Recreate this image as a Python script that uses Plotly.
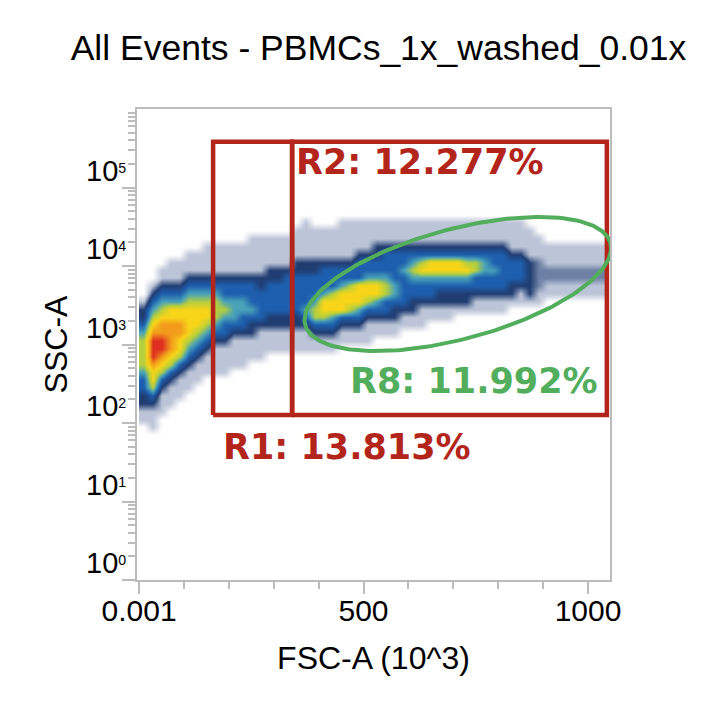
import numpy as np
import plotly.graph_objects as go

# ---------------- text ----------------
title_text = "All Events - PBMCs_1x_washed_0.01x"
x_title = "FSC-A (10^3)"
y_title = "SSC-A"

# ---------------- axes ----------------
x_tick_vals = [0.001, 500, 1000]
x_tick_text = ["0.001", "500", "1000"]
x_minor_vals = [100, 200, 300, 400, 600, 700, 800, 900]
y_label_exponents = [0, 1, 2, 3, 4, 5]

# ---------------- density ----------------
# FSC bins: 20 units wide starting at 0; SSC bins: 0.1 decade tall starting at 10^5.0 going down
fsc_bin_width = 20
ssc_log_top = 5.0
ssc_log_step = 0.1
ssc_rows = 37
# per FSC column: first SSC row (from top) and density levels going down
# 0 empty, 1 sparse dots, h speckled navy, 2 navy, 3 blue, 4 teal, 5 yellow-green, 6 yellow, 7 orange, 8 red
density_start = [14, 12, 10, 9, 9, 8, 8, 7, 7, 7, 7, 7, 6, 6, 6, 6, 6, 5, 4, 5, 5, 5,
                 4, 4, 4, 4, 4, 4, 4, 4, 4, 4, 4, 4, 4, 4, 4, 4, 4, 4, 4, 4, 4, 4,
                 4, 4, 4, 4, 4, 4, 4, 4]
density_levels = [
    "1223455554332211",
    "1234567888766532111",
    "1123456778876532111",
    "1112346677776532111",
    "111234667766532111",
    "111234566665432111",
    "11123456665432111",
    "11112345665432111",
    "11112345554321111",
    "11112334543321111",
    "1111233444321111",
    "1111233443321111",
    "1111123334322111",
    "1111122333321111",
    "111122333322111",
    "111122333322111",
    "111123333322111",
    "1111223333322111",
    "11111223333432111",
    "1111223334553211",
    "1111233346653211",
    "1111233356643211",
    "1111123346663211",
    "1111123356653211",
    "1111233366643211",
    "1111233466532111",
    "1112233466432110",
    "1112333455332110",
    "1112333344322110",
    "1112334333321100",
    "1112345433221100",
    "1112356433211100",
    "1112366433211000",
    "1112366432211000",
    "1112366432211000",
    "1112366432210000",
    "1112356432210000",
    "1112355332110000",
    "1112344332110000",
    "1112334332110000",
    "1112333332110000",
    "1111233322100000",
    "1111233321100000",
    "0111122222100000",
    "00111hhhh1100000",
    "000111hh11000000",
    "000111hh11000000",
    "000111hh11000000",
    "000111hh11000000",
    "000111hh11000000",
    "000111hh11000000",
    "000111hh11000000",
]
level_values = {"h": 1.5}

# ---------------- gates ----------------
gate_labels = ["R1: 13.813%", "R2: 12.277%", "R8: 11.992%"]
r1_fsc = [165, 341]
r2_fsc = [341, 1042]
rect_ssc = [126, 383000]
r8_center = (710, 5900)
label_pos = {"R1": (183, 1.694), "R2": (345, 5.325), "R8": (465, 2.535)}

# ---------------- layout constants ----------------
# (the page adds an 8 px body margin, so the figure is 8 px smaller each way)
W, H = 716, 700
ML, MR, MT, MB = 129, 114, 101, 128
x_range = [-4.5, 1049]
y_range = [0, 6]
plot_w = W - ML - MR
plot_h = H - MT - MB

RED = "#b3251b"
GREEN = "#52ad5c"
AXIS_GREY = "#bcbcbc"

# build density grid
n_cols = len(density_levels)
z = np.zeros((ssc_rows, n_cols))
for k, (s, lv) in enumerate(zip(density_start, density_levels)):
    for i, ch in enumerate(lv):
        if s + i < ssc_rows:
            z[s + i, k] = level_values.get(ch, None) if ch in level_values else int(ch)
x_edges = [fsc_bin_width * k for k in range(n_cols + 1)]
y_log_edges = [ssc_log_top - ssc_log_step * i for i in range(ssc_rows + 1)]
z_asc = z[::-1]
y_edges_asc = [10 ** v for v in y_log_edges[::-1]]

colorscale = [
    [0 / 8, "#ffffff"],
    [1 / 8, "#bcc5d8"],
    [2 / 8, "#203d72"],
    [3 / 8, "#1d5fae"],
    [4 / 8, "#49a2b8"],
    [5 / 8, "#b5cf3e"],
    [6 / 8, "#f8d519"],
    [7 / 8, "#f39c1c"],
    [8 / 8, "#de2f1f"],
]

fig = go.Figure()
fig.add_trace(go.Heatmap(
    x=x_edges, y=y_edges_asc, z=z_asc, zmin=0, zmax=8,
    colorscale=colorscale, zsmooth="best", showscale=False, hoverinfo="skip",
))

# rectangle gates
for fx in (r1_fsc, r2_fsc):
    fig.add_trace(go.Scatter(
        x=[fx[0], fx[1], fx[1], fx[0], fx[0]],
        y=[rect_ssc[0], rect_ssc[0], rect_ssc[1], rect_ssc[1], rect_ssc[0]],
        mode="lines", line=dict(color=RED, width=4.5), hoverinfo="skip", showlegend=False,
    ))

# ellipse gate (semi-axes in screen pixels, tilted)
x_per_px = (x_range[1] - x_range[0]) / plot_w
dec_per_px = (y_range[1] - y_range[0]) / plot_h
a_px, b_px, ang = 158, 55, np.deg2rad(15)
t = np.linspace(0, 2 * np.pi, 241)
dx = a_px * np.cos(t) * np.cos(ang) - b_px * np.sin(t) * np.sin(ang)
dy = a_px * np.cos(t) * np.sin(ang) + b_px * np.sin(t) * np.cos(ang)
ex = r8_center[0] + dx * x_per_px
ey = 10 ** (np.log10(r8_center[1]) + dy * dec_per_px)
fig.add_trace(go.Scatter(x=ex, y=ey, mode="lines", line=dict(color=GREEN, width=4),
                         hoverinfo="skip", showlegend=False))

annos = []
for lab in gate_labels:
    key = lab.split(":")[0]
    px, py = label_pos[key]
    annos.append(dict(
        x=px, y=py, xref="x", yref="y", text=lab, showarrow=False,
        xanchor="left", yanchor="middle",
        font=dict(family="DejaVu Sans", size=35, color=GREEN if key == "R8" else RED, weight="bold"),
    ))

y_tickvals = [10 ** e for e in y_label_exponents]
y_ticktext = ["10<sup><sub>%d</sub></sup>" % e for e in y_label_exponents]
y_minor = [m * 10 ** e for e in range(0, 6) for m in range(2, 10)]

fig.update_layout(
    width=W, height=H,
    margin=dict(l=ML, r=MR, t=MT, b=MB, autoexpand=False),
    paper_bgcolor="white", plot_bgcolor="white",
    showlegend=False,
    title=dict(text=title_text, x=370.5 / W, xanchor="center", y=1 - 40 / H, yanchor="middle",
               xref="container", yref="container", automargin=False,
               font=dict(family="Liberation Sans", size=35.5, color="black")),
    annotations=annos,
    xaxis=dict(
        range=x_range, showgrid=False, zeroline=False, automargin=False,
        showline=True, linecolor=AXIS_GREY, linewidth=2, mirror=True,
        tickmode="array", tickvals=x_tick_vals, ticktext=x_tick_text,
        ticks="outside", ticklen=12, tickwidth=2, tickcolor=AXIS_GREY,
        ticklabelstandoff=-9,
        tickfont=dict(family="Liberation Sans", size=30, color="black"),
        minor=dict(tickvals=x_minor_vals, ticks="outside", ticklen=7, tickwidth=2, tickcolor=AXIS_GREY),
        title=dict(text=x_title, font=dict(family="Liberation Sans", size=32, color="black"), standoff=21),
    ),
    yaxis=dict(
        type="log", range=y_range, showgrid=False, zeroline=False, automargin=False,
        showline=True, linecolor=AXIS_GREY, linewidth=2, mirror=True,
        tickmode="array", tickvals=y_tickvals, ticktext=y_ticktext,
        ticks="outside", ticklen=13, tickwidth=2, tickcolor=AXIS_GREY,
        ticklabelshift=-17, ticklabelstandoff=-10,
        tickfont=dict(family="Liberation Sans", size=29, color="black"),
        minor=dict(tickvals=y_minor, ticks="outside", ticklen=7, tickwidth=1.5, tickcolor=AXIS_GREY),
        title=dict(text=y_title, font=dict(family="Liberation Sans", size=32, color="black"), standoff=9),
    ),
)

fig.write_html("out.html")
